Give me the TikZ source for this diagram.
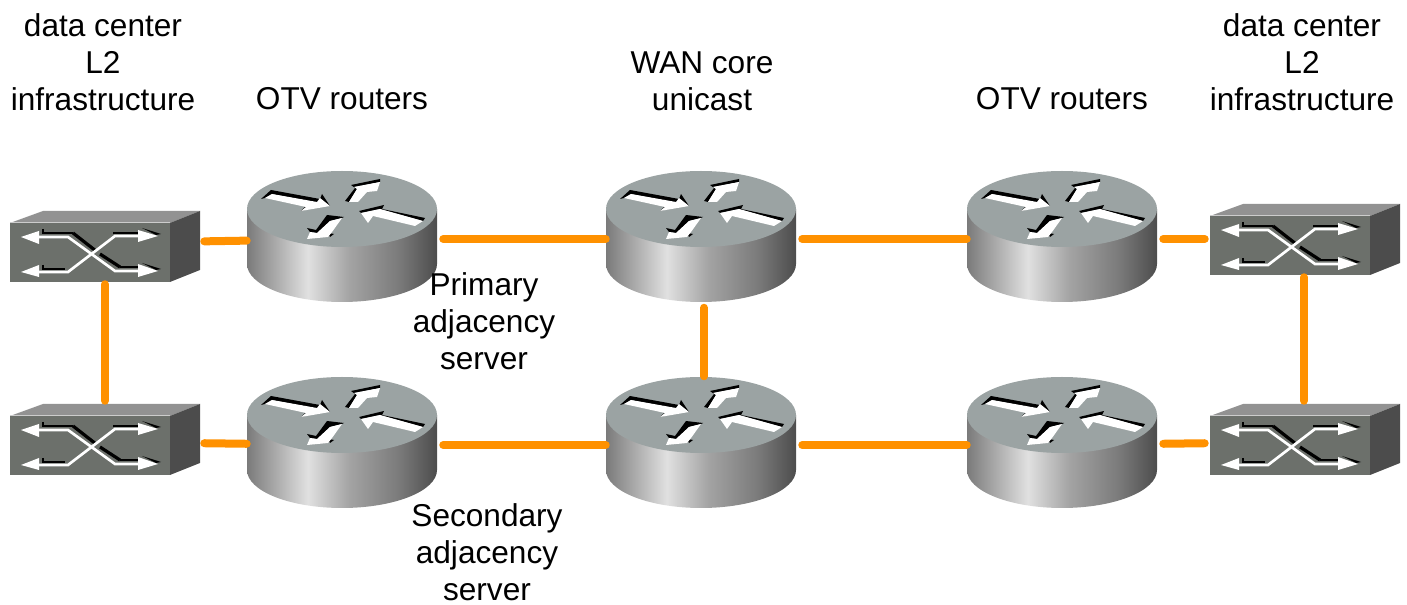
\documentclass[tikz,border=0pt]{standalone}
\usepackage{fontspec}
\setmainfont{Liberation Sans}
\definecolor{linkorange}{HTML}{FF9100}
\definecolor{routertop}{HTML}{9BA3A3}
\definecolor{switchfront}{HTML}{6C706B}
\definecolor{switchtop}{HTML}{929292}
\definecolor{switchside}{HTML}{4C4C4C}
\pgfdeclarehorizontalshading{routerside}{100bp}{
  color(0bp)=(black!52); color(25bp)=(black!52); color(41bp)=(black!12);
  color(52bp)=(black!36); color(65bp)=(black!52); color(75bp)=(black!70); color(100bp)=(black!70)}
\tikzset{
  link/.style={draw=linkorange,line width=6pt,line cap=round},
  routerbox/.style={inner sep=0pt,minimum width=147pt,minimum height=102.75pt},
  switchbox/.style={inner sep=0pt,minimum width=148.5pt,minimum height=61.5pt},
  labeltext/.style={inner sep=0pt,align=center,font=\fontsize{23.7}{27.8}\selectfont},
  routerpic/.pic={
    \shade [shading=routerside] (-95,0) -- (-95,55) arc [start angle=180,end angle=0,x radius=95,y radius=38] -- (95,0) -- cycle;
    \fill [routertop] (0,0) ellipse [x radius=95,y radius=38];
    % black edges
    \fill [black] (-81,-10) -- (-71,-19) -- (-22,-10) -- (-20,-15) -- (-12,-3) -- (-22,-6) -- (-70,-15) -- (-77,-11) -- cycle;
    \fill [black] (-41,2) -- (-36,-3) -- (-34,0) -- cycle;
    \fill [black] (3,-8) -- (13,-21) -- (9,-24) -- (38,-30) -- (38,-27) -- (12,-22) -- (15,-20) -- (7,-7) -- cycle;
    \fill [black] (17,2) -- (42,-4) -- (40,0) -- (83,9) -- (81,12) -- (38,0) -- (19,4) -- cycle;
    \fill [black] (-35,19) -- (-26,21) -- (-15,6) -- (2,8) -- (0,9) -- (-12,12) -- (-25,24) -- (-32,23) -- cycle;
    \fill [black] (-14,24) -- (-8,25) -- (-12,28) -- cycle;
    % white arrows
    \fill [white] (-77,-11) -- (-70,-15) -- (-25,-7) -- (-22,-11) -- (-12,-3) -- (-41,2) -- (-36,-2) -- cycle;
    \fill [white] (7,-7) -- (15,-20) -- (12,-22) -- (38,-27) -- (35,-18) -- (25,-17) -- (16,-7) -- cycle;
    \fill [white] (19,4) -- (38,0) -- (81,12) -- (73,17) -- (31,7) -- (26,14) -- cycle;
    \fill [white] (-35,30) -- (-32,23) -- (-25,24) -- (-12,12) -- (0,9) -- (-10,23) -- (-14,28) -- cycle;
  },
  switchpic/.pic={
    \fill [switchfront] (0,0) rectangle (160,59);
    \fill [switchtop] (0,0) -- (33,-12) -- (190,-12) -- (160,0) -- cycle;
    \fill [switchside] (160,0) -- (190,-12) -- (190,47) -- (160,59) -- cycle;
    \draw [white!80!black,line width=0.75pt] (0,0) -- (160,0);
    % black edges
    \draw [black,line width=1.2pt] (33,6) -- (33,10) -- (63,10);
    \draw [black,line width=2.4pt] (63,10) -- (86,28);
    \draw [black,line width=1.2pt] (33,42) -- (33,46) -- (55,46);
    \draw [black,line width=1.2pt] (103,10) -- (132,10);
    \draw [black,line width=2.4pt] (90,31) -- (110,44);
    \draw [black,line width=1.2pt] (110,44) -- (130,44);
    \fill [black] (132,5) -- (151,11) -- (146,12) -- cycle;
    \fill [black] (132,40) -- (151,46) -- (146,47) -- cycle;
    % white arrows
    \draw [white,line width=2pt] (27,14) -- (58,14) -- (105,48) -- (130,48);
    \draw [white,line width=2pt] (27,49) -- (58,49) -- (105,13) -- (130,13);
    \fill [white] (11,14) -- (29,8) -- (29,21) -- cycle;
    \fill [white] (11,49) -- (29,42) -- (29,54) -- cycle;
    \fill [white] (148,13) -- (128,7) -- (128,19) -- cycle;
    \fill [white] (148,48) -- (128,41) -- (128,54) -- cycle;
  }
}
\begin{document}
\begin{tikzpicture}[x=0.75pt,y=0.75pt,yscale=-1,xscale=1]
        \useasboundingbox (0,0) rectangle (1407,605);

        %Shape: Switches
        \draw (10,223) pic [transform shape] {switchpic};
        \draw (10,416) pic [transform shape] {switchpic};
        \draw (1210,216) pic [transform shape] {switchpic};
        \draw (1210,416) pic [transform shape] {switchpic};
        %Shape: Routers
        \draw (342,209) pic [transform shape] {routerpic};
        \draw (701,209) pic [transform shape] {routerpic};
        \draw (1062,209) pic [transform shape] {routerpic};
        \draw (342,415) pic [transform shape] {routerpic};
        \draw (701,415) pic [transform shape] {routerpic};
        \draw (1062,415) pic [transform shape] {routerpic};

        % Named boxes for the links
        \draw (105,243) node (switchA) [switchbox] {};
        \draw (105,442) node (switchB) [switchbox] {};
        \draw (1304,239) node (switchC) [switchbox] {};
        \draw (1304,442) node (switchD) [switchbox] {};
        \draw (345,239) node (routerA) [routerbox] {};
        \draw (704,239) node (routerB) [routerbox] {};
        \draw (1065,239) node (routerC) [routerbox] {};
        \draw (345,445) node (routerD) [routerbox] {};
        \draw (704,445) node (routerE) [routerbox] {};
        \draw (1065,445) node (routerF) [routerbox] {};

        %Straight Lines
        \draw [link] (switchA) -- (routerA);
        \draw [link] (routerA) -- (routerB);
        \draw [link] (routerB) -- (routerC);
        \draw [link] (routerC) -- (switchC);
        \draw [link] (switchB) -- (routerD);
        \draw [link] (routerD) -- (routerE);
        \draw [link] (routerE) -- (routerF);
        \draw [link] (routerF) -- (switchD);
        \draw [link] (switchA) -- (switchB);
        \draw [link] (routerB) -- (routerE);
        \draw [link,shorten <=-2.25pt] (switchC) -- (switchD);

        % Text Node
        \draw (103,62) node (dcleft) [labeltext] {data center\\L2\\infrastructure};
        % Text Node
        \draw (342,99) node (otvleft) [labeltext] {OTV routers};
        % Text Node
        \draw (702,81) node (wancore) [labeltext] {WAN core\\unicast};
        % Text Node
        \draw (1062,99) node (otvright) [labeltext] {OTV routers};
        % Text Node
        \draw (1302,62) node (dcright) [labeltext] {data center\\L2\\infrastructure};
        % Text Node
        \draw (484,321) node (primary) [labeltext] {Primary\\adjacency\\server};
        % Text Node
        \draw (487,552) node (secondary) [labeltext] {Secondary\\adjacency\\server};
\end{tikzpicture}
\end{document}
